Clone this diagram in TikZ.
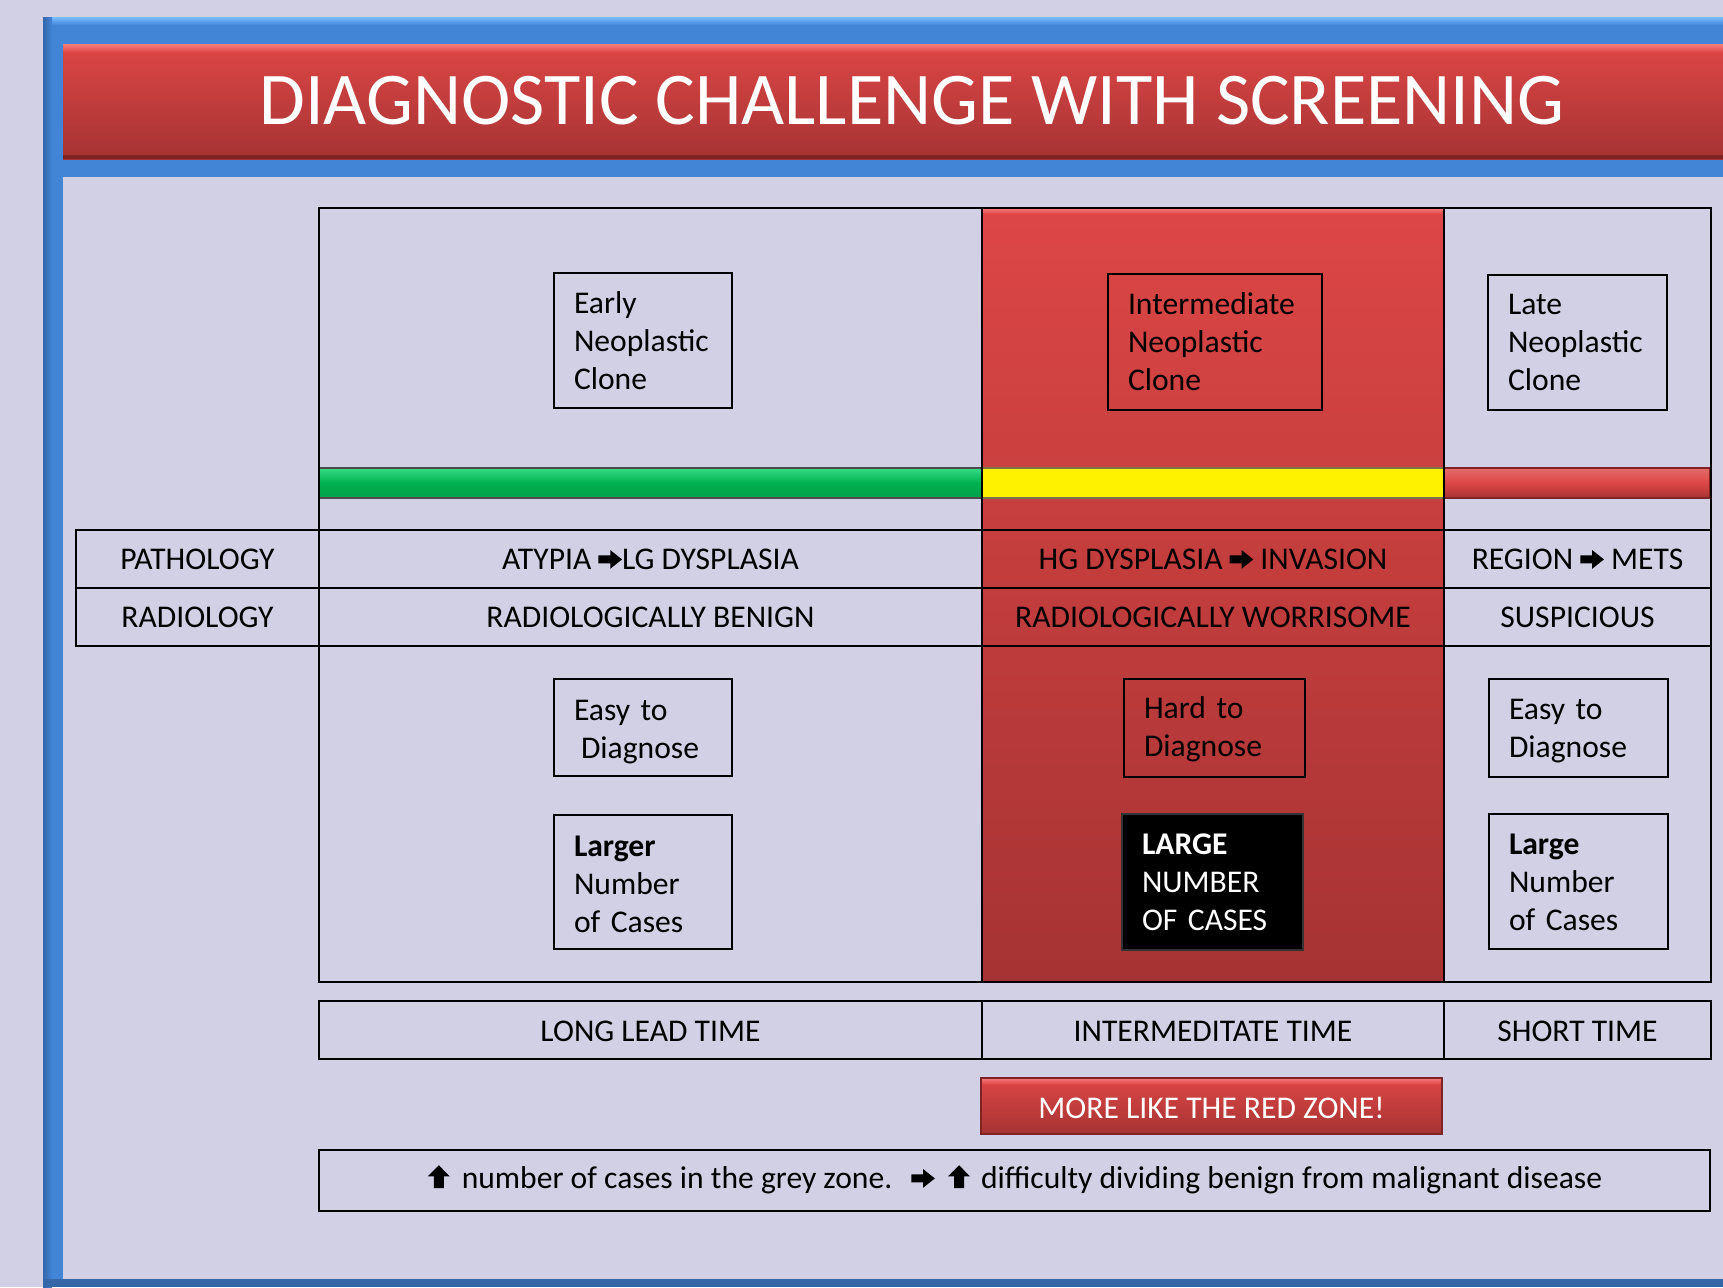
\documentclass[tikz,border=0pt]{standalone}
\usepackage{fontspec}
\setmainfont{Carlito}
\definecolor{lav}{HTML}{D1D0E5}
\definecolor{frameblue}{HTML}{4285D6}
\definecolor{framelight}{HTML}{79BDFF}
\definecolor{framedark}{HTML}{3466A8}
\definecolor{redtop}{HTML}{DD4646}
\definecolor{redbot}{HTML}{A63333}
\definecolor{redline}{HTML}{7E2424}
\definecolor{greenmid}{HTML}{00B050}
\definecolor{greentop}{HTML}{36DC86}
\definecolor{greenbot}{HTML}{04A04A}
\newcommand{\bodyfont}{\fontsize{15.8}{19}\selectfont\hyphenpenalty=10000 }
\newcommand{\arr}{\tikz[baseline=0pt,x=1pt,y=1pt]\fill (0,2.8)--(5.9,2.8)--(5.9,0.1)--(11.8,4.8)--(5.9,9.5)--(5.9,6.8)--(0,6.8)--cycle;}
\newcommand{\uarr}{\tikz[baseline=0pt,x=1pt,y=1pt]\fill (3,0)--(8,0)--(8,5.8)--(11,5.8)--(5.5,11.4)--(0,5.8)--(3,5.8)--cycle;}
\begin{document}
\begin{tikzpicture}[x=0.5pt,y=-0.5pt,
  lbl/.style={font=\bodyfont, inner sep=0pt, anchor=base},
  wlbl/.style={lbl, text=white},
  cbox/.style={draw=black, line width=1pt, align=left, inner xsep=10pt, inner ysep=0pt,
     font=\bodyfont},
  gline/.style={draw=black, line width=1pt},
]
\useasboundingbox (0,0) rectangle (1723,1287);
% background and frame
\fill[lav] (0,0) rectangle (1723,1287);
\fill[frameblue] (43,17) rectangle (1723,1287);
\shade[top color=framelight, bottom color=frameblue] (43,17) rectangle (1723,25);
\shade[left color=framedark, right color=frameblue] (43,17) rectangle (52,1287);
\fill[framedark] (43,1279) rectangle (1723,1287);
\fill[lav] (63,177) rectangle (1723,1279);
% title bar
\shade[top color=redtop, bottom color=redbot] (63,44) rectangle (1723,159);
\shade[top color=red!45!white!80!redtop, bottom color=redtop] (63,44) rectangle (1723,52);
\fill[redline] (63,155) rectangle (1723,159);
\node[font=\fontsize{37.2}{44}\selectfont, text=white, inner sep=0pt, anchor=base] (title) at (912,124) {DIAGNOSTIC CHALLENGE WITH SCREENING};
% red column
\shade[top color=redtop, bottom color=redbot] (982,208) rectangle (1444,982);
\shade[top color=red!45!white!80!redtop, bottom color=redtop] (982,208) rectangle (1444,214);
% progress bar
\shade[top color=greentop, bottom color=greenbot, middle color=greenmid] (319,468) rectangle (982,498);
\draw[black!70, line width=0.6pt] (319,468) rectangle (982,498);
\fill[yellow] (982,468) rectangle (1444,498);
\draw[black!60!yellow, line width=0.6pt] (982,468) rectangle (1444,498);
\shade[top color=redtop!80!white, bottom color=redbot, middle color=redtop] (1444,468) rectangle (1710,498);
\draw[redline, line width=0.6pt] (1444,468) rectangle (1710,498);
% grid
\draw[gline] (319,208) rectangle (1711,982);
\draw[gline] (982,208) -- (982,982);
\draw[gline] (1444,208) -- (1444,982);
\draw[gline] (76,530) rectangle (1711,646);
\draw[gline] (76,588) -- (1711,588);
\draw[gline] (319,530) -- (319,646);
% row labels
\node[lbl] (path) at (197.5,569) {PATHOLOGY};
\node[lbl] (rad) at (197.5,627) {RADIOLOGY};
\node[lbl] (p1) at (650.5,569) {ATYPIA \arr LG DYSPLASIA};
\node[lbl] (p2) at (1213,569) {HG DYSPLASIA \arr\ INVASION};
\node[lbl] (p3) at (1577.5,569) {REGION \arr\ METS};
\node[lbl] (r1) at (650.5,627) {RADIOLOGICALLY BENIGN};
\node[lbl] (r2) at (1213,627) {RADIOLOGICALLY WORRISOME};
\node[lbl] (r3) at (1577.5,627) {SUSPICIOUS};
% clone boxes
\node[cbox, text width=69pt, minimum height=67.5pt] (early) at (643,340.5) {Early\\Neoplastic\\Clone};
\node[cbox, text width=87pt, minimum height=68pt] (inter) at (1215,342) {Intermediate\\Neoplastic\\Clone};
\node[cbox, text width=69.5pt, minimum height=67.5pt] (late) at (1577.5,342.5) {Late\\Neoplastic\\Clone};
% diagnose boxes
\node[cbox, text width=69pt, minimum height=48.5pt] (easy1) at (643,727.5) {\rule{0pt}{14.4pt}Easy to\\\hspace*{3.5pt}Diagnose};
\node[cbox, text width=70.5pt, minimum height=49pt] (hard) at (1214.5,728) {\rule{0pt}{12.4pt}Hard to\\Diagnose};
\node[cbox, text width=69.5pt, minimum height=49pt] (easy3) at (1578.5,728) {\rule{0pt}{13.4pt}Easy to\\Diagnose};
\node[cbox, text width=69pt, minimum height=67pt] (larger) at (643,882) {\rule{0pt}{12.2pt}\textbf{Larger}\\Number\\of Cases};
\node[cbox, draw=black!80, fill=black, text=white, text width=70.5pt, minimum height=68pt] (large2) at (1212.5,882) {\textbf{LARGE}\\NUMBER\\OF CASES};
\node[cbox, text width=69.5pt, minimum height=67.5pt] (large3) at (1578.5,881.5) {\rule{0pt}{11.2pt}\textbf{Large}\\Number\\of Cases};
% time row
\draw[gline] (319,1001) rectangle (1711,1059);
\draw[gline] (982,1001) -- (982,1059);
\draw[gline] (1444,1001) -- (1444,1059);
\node[lbl] (t1) at (650.5,1041) {LONG LEAD TIME};
\node[lbl] (t2) at (1213,1041) {INTERMEDITATE TIME};
\node[lbl] (t3) at (1577.5,1041) {SHORT TIME};
% red button
\shade[top color=redtop, bottom color=redbot] (981,1078) rectangle (1442,1134);
\shade[top color=red!45!white!80!redtop, bottom color=redtop] (981,1078) rectangle (1442,1084);
\draw[redline, line width=0.6pt] (981,1078) rectangle (1442,1134);
\node[wlbl] (btn) at (1211.5,1118) {MORE LIKE THE RED ZONE!};
% bottom box
\draw[gline] (319,1150) rectangle (1710,1211);
\node[lbl] (note) at (1015,1188) {\uarr\hspace{6pt}number of cases in the grey zone.\hspace{9.5pt}\arr\hspace{6.6pt}\uarr\hspace{5.5pt}difficulty dividing benign from malignant disease};
\end{tikzpicture}
\end{document}
